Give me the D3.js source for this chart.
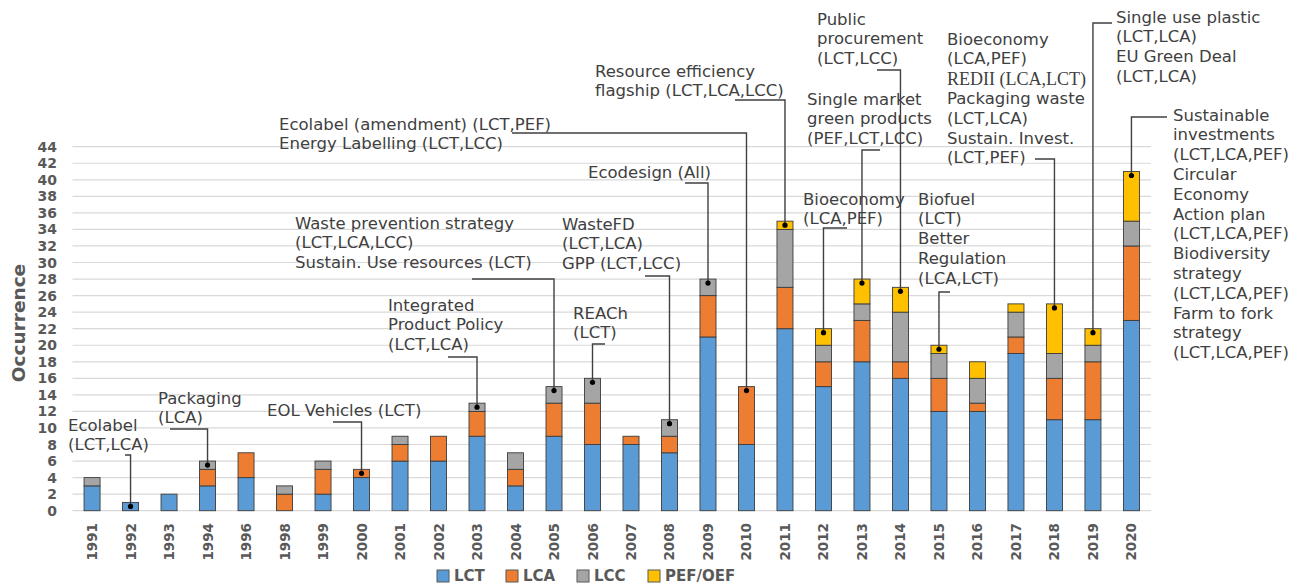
<!DOCTYPE html>
<html>
<head>
<meta charset="utf-8">
<script src="https://cdn.jsdelivr.net/npm/d3@7"></script>
<style>
  body { margin: 0; background: #fff; }
  svg { display: block; }
</style>
</head>
<body>
<svg id="chart"></svg>
<script>
// Chart size
const width = 1300;
const height = 587;

// Data
const years = ["1991", "1992", "1993", "1994", "1996", "1998", "1999", "2000", "2001", "2002",
  "2003", "2004", "2005", "2006", "2007", "2008", "2009", "2010", "2011", "2012",
  "2013", "2014", "2015", "2016", "2017", "2018", "2019", "2020"];
const lct = [3, 1, 2, 3, 4, 0, 2, 4, 6, 6, 9, 3, 9, 8, 8, 7, 21, 8, 22, 15, 18, 16, 12, 12, 19, 11, 11, 23];
const lca = [0, 0, 0, 2, 3, 2, 3, 1, 2, 3, 3, 2, 4, 5, 1, 2, 5, 7, 5, 3, 5, 2, 4, 1, 2, 5, 7, 9];
const lcc = [1, 0, 0, 1, 0, 1, 1, 0, 1, 0, 1, 2, 2, 3, 0, 2, 2, 0, 7, 2, 2, 6, 3, 3, 3, 3, 2, 3];
const pef = [0, 0, 0, 0, 0, 0, 0, 0, 0, 0, 0, 0, 0, 0, 0, 0, 0, 0, 1, 2, 3, 3, 1, 2, 1, 6, 2, 6];

const seriesNames = ["LCT", "LCA", "LCC", "PEF/OEF"];
const yTicks = d3.range(0, 46, 2);

// Policy annotations (text per year)
const noteYears = ["1992", "1994", "2000", "2003", "2005", "2006", "2008", "2009", "2010",
  "2011", "2012", "2013", "2014", "2015", "2018", "2019", "2020"];
const noteLines = [
  ["Ecolabel", "(LCT,LCA)"],
  ["Packaging", "(LCA)"],
  ["EOL Vehicles (LCT)"],
  ["Integrated", "Product Policy", "(LCT,LCA)"],
  ["Waste prevention strategy", "(LCT,LCA,LCC)", "Sustain. Use resources (LCT)"],
  ["REACh", "(LCT)"],
  ["WasteFD", "(LCT,LCA)", "GPP (LCT,LCC)"],
  ["Ecodesign (All)"],
  ["Ecolabel (amendment) (LCT,PEF)", "Energy Labelling (LCT,LCC)"],
  ["Resource efficiency", "flagship (LCT,LCA,LCC)"],
  ["Bioeconomy", "(LCA,PEF)"],
  ["Single market", "green products", "(PEF,LCT,LCC)"],
  ["Public", "procurement", "(LCT,LCC)"],
  ["Biofuel", "(LCT)", "Better", "Regulation", "(LCA,LCT)"],
  ["Bioeconomy", "(LCA,PEF)", "REDII (LCA,LCT)", "Packaging waste", "(LCT,LCA)", "Sustain. Invest.", "(LCT,PEF)"],
  ["Single use plastic", "(LCT,LCA)", "EU Green Deal", "(LCT,LCA)"],
  ["Sustainable", "investments", "(LCT,LCA,PEF)", "Circular", "Economy", "Action plan", "(LCT,LCA,PEF)",
    "Biodiversity", "strategy", "(LCT,LCA,PEF)", "Farm to fork", "strategy", "(LCT,LCA,PEF)"]
];

// layout of each note: text x, first line y, leader start x, leader y
const noteLayout = [
  [68, 425, 125, 455],
  [158, 398, 170, 429],
  [267, 410, 333, 422],
  [388, 305, 448, 357],
  [295, 223, 472, 279],
  [573, 313, 605, 344],
  [562, 224, 645, 276],
  [588, 172, 685, 183],
  [279, 124, 512, 133],
  [595, 71, 735, 100],
  [803, 199, 847, 228],
  [807, 99, 880, 150],
  [817, 19, 877, 70],
  [918, 199, 950, 292],
  [947, 39, 1035, 159],
  [1116, 17, 1112, 23],
  [1173, 115, 1167, 117]
];

const colors = ["#5b9bd5", "#ed7d31", "#a5a5a5", "#ffc000"];
const font = "'DejaVu Sans', Verdana, sans-serif";

const svg = d3.select("#chart").attr("width", width).attr("height", height);

const x = d3.scaleBand()
  .domain(years)
  .range([72.5, 1151])
  .paddingInner(0.584)
  .paddingOuter(0.3);

const y = d3.scaleLinear().domain([0, 44]).range([510.7, 146.7]);

// gridlines
svg.append("g")
  .selectAll("line")
  .data(yTicks)
  .join("line")
  .attr("x1", 72.5)
  .attr("x2", 1151)
  .attr("y1", (d) => y(d))
  .attr("y2", (d) => y(d))
  .attr("stroke", "#d9d9d9")
  .attr("stroke-width", 1.2);

// y axis labels
const yAxis = svg.append("g")
  .attr("transform", "translate(62,0)")
  .call(d3.axisLeft(y).tickValues(yTicks).tickSize(0).tickPadding(5));
yAxis.select(".domain").remove();
yAxis.selectAll("text")
  .attr("font-family", font)
  .attr("font-size", 14)
  .attr("font-weight", "bold")
  .attr("fill", "#595959");

svg.append("text")
  .attr("transform", "translate(25,323) rotate(-90)")
  .attr("text-anchor", "middle")
  .attr("font-family", font)
  .attr("font-size", 18.5)
  .attr("font-weight", "bold")
  .attr("fill", "#595959")
  .text("Occurrence");

// x axis labels
const xAxis = svg.append("g")
  .attr("transform", "translate(0,518)")
  .call(d3.axisBottom(x).tickSize(0).tickPadding(0));
xAxis.select(".domain").remove();
xAxis.selectAll("text")
  .attr("font-family", font)
  .attr("font-size", 13.5)
  .attr("font-weight", "bold")
  .attr("fill", "#595959")
  .attr("text-anchor", "end")
  .attr("dy", null)
  .attr("transform", "rotate(-90) translate(-5,0)")
  .attr("y", 0)
  .attr("x", 0)
  .attr("dominant-baseline", "central");

// stacked bars
const table = years.map((yr, i) => ({
  year: yr, LCT: lct[i], LCA: lca[i], LCC: lcc[i], "PEF/OEF": pef[i]
}));
const stacked = d3.stack().keys(seriesNames)(table);

svg.append("g")
  .selectAll("g")
  .data(stacked)
  .join("g")
  .attr("fill", (d, i) => colors[i])
  .selectAll("rect")
  .data((d) => d.filter((s) => s[1] > s[0]))
  .join("rect")
  .attr("x", (d) => x(d.data.year))
  .attr("width", x.bandwidth())
  .attr("y", (d) => y(d[1]))
  .attr("height", (d) => y(d[0]) - y(d[1]))
  .attr("stroke", "#3c3c3c")
  .attr("stroke-width", 0.9);

// annotations
const totals = years.map((yr, i) => lct[i] + lca[i] + lcc[i] + pef[i]);
const notes = svg.append("g");
noteYears.forEach((yr, k) => {
  const [tx, ty, hx, hy] = noteLayout[k];
  const i = years.indexOf(yr);
  const cx = x(yr) + x.bandwidth() / 2;
  const dotY = y(totals[i]) + 4;

  notes.append("path")
    .attr("d", d3.line()([[hx, hy], [cx, hy], [cx, dotY]]))
    .attr("fill", "none")
    .attr("stroke", "#404040")
    .attr("stroke-width", 1.4);
  notes.append("circle")
    .attr("cx", cx)
    .attr("cy", dotY)
    .attr("r", 2.6)
    .attr("fill", "#000");

  const t = notes.append("text")
    .attr("font-family", font)
    .attr("font-size", 16.5)
    .attr("fill", "#404040");
  noteLines[k].forEach((line, j) => {
    const serif = line.startsWith("REDII");
    t.append("tspan")
      .attr("x", tx)
      .attr("y", ty + j * 19.8)
      .attr("dominant-baseline", "central")
      .attr("font-family", serif ? "'Liberation Serif', serif" : null)
      .attr("font-size", serif ? 18 : null)
      .text(line);
  });
});

// legend
const legendX = [437, 506, 577, 648];
const legend = svg.append("g");
seriesNames.forEach((name, i) => {
  legend.append("rect")
    .attr("x", legendX[i])
    .attr("y", 570)
    .attr("width", 12)
    .attr("height", 12)
    .attr("fill", colors[i])
    .attr("stroke", "#595959")
    .attr("stroke-width", 1);
  legend.append("text")
    .attr("x", legendX[i] + 17)
    .attr("y", 576)
    .attr("dominant-baseline", "central")
    .attr("font-family", font)
    .attr("font-size", 15)
    .attr("font-weight", "bold")
    .attr("fill", "#595959")
    .text(name);
});
</script>
</body>
</html>
